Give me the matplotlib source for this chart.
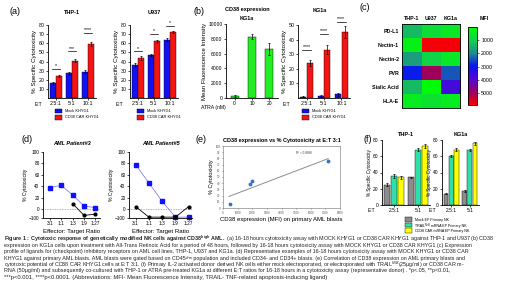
import matplotlib
matplotlib.use('Agg')
import matplotlib.pyplot as plt
import numpy as np
from matplotlib.colors import LinearSegmentedColormap
from matplotlib.patches import Rectangle

plt.rcParams['font.family'] = ['Liberation Sans', 'DejaVu Sans']
plt.rcParams['mathtext.fontset'] = 'custom'
plt.rcParams['mathtext.rm'] = 'Liberation Sans'
plt.rcParams['mathtext.bf'] = 'Liberation Sans:bold'
plt.rcParams['axes.linewidth'] = 0.6
plt.rcParams['xtick.major.width'] = 0.5
plt.rcParams['ytick.major.width'] = 0.5
plt.rcParams['xtick.major.size'] = 1.5
plt.rcParams['ytick.major.size'] = 1.5
plt.rcParams['xtick.major.pad'] = 1
plt.rcParams['ytick.major.pad'] = 1

# ---- data ----
ratios_a = ['2.5:1', '5:1', '10:1']
thp1_mock = [16, 27, 29]
thp1_mock_err = [1.5, 1.5, 2]
thp1_car = [24, 41, 59]
thp1_car_err = [1.5, 1.5, 2]
thp1_sig = ['*', '***', '****']

u937_mock = [36, 47, 64]
u937_mock_err = [2.5, 1.5, 2]
u937_car = [44, 62, 72]
u937_car_err = [2, 1.5, 1]
u937_sig = ['*', '*', '*']

kg1a_mock = [1, 1.5, 2.5]
kg1a_mock_err = [0.3, 0.5, 1]
kg1a_car = [24, 33, 45]
kg1a_car_err = [2, 3, 4]
kg1a_sig = ['****', '****', '****']

atra_doses = ['0', '10', '20']
atra_mfi = [300, 8300, 6600]
atra_mfi_err = [100, 300, 800]

ligands = ['PD-L1', 'Nectin-1', 'Nectin-2', 'PVR', 'Sialic Acid', 'HLA-E']
cell_lines = ['THP-1', 'U937', 'KG1a']
ligand_mfi = [[1300, 700, 500],
              [300, 5800, 5800],
              [1700, 900, 500],
              [2900, 5000, 2400],
              [1300, 100, 3700],
              [400, 600, 400]]

ratios_d = ['3:1', '1:1', '1:3', '1:9', '1:27']
p3_car = [38, 42, 25, 6, 3]
p3_mock = [np.nan, np.nan, 10, -70, -55]
p5_car = [78, 46, 14, -90, -90]
p5_mock = [5, -90, -90, -90, 5]

aml_mfi = [470, 1830, 1980, 7190]
aml_cyto = [6, 38, 43, 76]

ratios_f = ['2.5:1', '5:1']
f_thp1_mock = [25, 34]
f_thp1_trail = [36, 68]
f_thp1_car = [34, 73]
f_thp1_err = [[1.5, 1], [2.5, 2], [2, 2.5]]
f_kg1a_mock = [14, 17]
f_kg1a_trail = [60, 68]
f_kg1a_car = [68, 76]
f_kg1a_err = [[1, 1], [1, 1], [2, 2]]

BLUE = '#1212f0'
RED = '#f51414'
GREEN = '#22ee22'
GRAY = '#8c8c8c'
TEAL = '#30e0a8'
YELLOW = '#ffff00'

W, H = 520, 292
fig = plt.figure(figsize=(W / 100, H / 100), dpi=100)


def box(x0, y0, x1, y1):
    return fig.add_axes([x0 / W, 1 - y1 / H, (x1 - x0) / W, (y1 - y0) / H])


def ftext(x, y, s, **kw):
    return fig.text(x / W, 1 - y / H, s, **kw)


def clean(ax, ls=3.8):
    ax.spines['top'].set_visible(False)
    ax.spines['right'].set_visible(False)
    ax.tick_params(labelsize=ls)


def cyto_bars(ax, mock, mock_err, car, car_err, ymax, step, sig, sig_y):
    x = np.arange(len(mock))
    ek = dict(lw=0.5, capsize=1, capthick=0.5)
    ax.bar(x - 0.19, mock, 0.36, yerr=mock_err, color=BLUE, edgecolor='k', lw=0.3, error_kw=ek)
    ax.bar(x + 0.19, car, 0.36, yerr=car_err, color=RED, edgecolor='k', lw=0.3, error_kw=ek)
    ax.set_xlim(-0.5, len(mock) - 0.5)
    ax.set_ylim(0, ymax)
    ax.set_yticks(np.arange(step, ymax + 1, step))
    ax.set_xticks(x)
    ax.set_xticklabels(ratios_a)
    clean(ax)
    for xi, s, y in zip(x, sig, sig_y):
        ax.plot([xi - 0.25, xi + 0.25], [y, y], color='k', lw=0.5, clip_on=False)
        ax.text(xi, y + ymax * 0.01, s, ha='center', va='bottom', fontsize=3.8, clip_on=False)
    ax.set_ylabel('% Specific Cytotoxicity', fontsize=4.5, labelpad=1)


def bar_legend(x, y, labels, colors, fs=2.8, dy=6.5):
    for i, (lab, c) in enumerate(zip(labels, colors)):
        fig.patches.append(Rectangle((x / W, 1 - (y + i * dy + 2.3) / H), 7 / W, 4.6 / H,
                                     facecolor=c, edgecolor='k', lw=0.3, transform=fig.transFigure))
        ftext(x + 10, y + i * dy, lab, fontsize=fs, va='center')


# ---- (a) ----
ftext(9, 12, '(a)', fontsize=6.5, va='center')
ax = box(48, 25, 96, 98)
cyto_bars(ax, thp1_mock, thp1_mock_err, thp1_car, thp1_car_err, 80, 10, thp1_sig, [32, 51, 71])
ax.set_title('THP-1', fontsize=4, fontweight='bold', pad=8)
ftext(35, 104, 'E:T', fontsize=3.6, va='center')
bar_legend(55, 111, ['Mock KHYG1', 'CD38 CAR KHYG1'], [BLUE, RED])

ax = box(130, 25, 178, 98)
cyto_bars(ax, u937_mock, u937_mock_err, u937_car, u937_car_err, 80, 10, u937_sig, [51, 70, 79])
ax.set_title('U937', fontsize=4, fontweight='bold', pad=8)
ftext(116, 104, 'E:T', fontsize=3.6, va='center')
bar_legend(137, 111, ['Mock KHYG1', 'CD38 CAR KHYG1'], [BLUE, RED])

# ---- (b) ----
ftext(193, 12, '(b)', fontsize=6.5, va='center')
ftext(247, 10, 'CD38 expression', fontsize=4, fontweight='bold', ha='center', va='center')
ftext(247, 19, 'KG1a', fontsize=4, fontweight='bold', ha='center', va='center')
ax = box(226, 24, 278, 98)
xb = np.arange(3)
ax.bar(xb, atra_mfi, 0.45, yerr=atra_mfi_err, color=GREEN, edgecolor='k', lw=0.3,
       error_kw=dict(lw=0.5, capsize=1, capthick=0.5))
ax.set_xlim(-0.5, 2.5)
ax.set_ylim(0, 10000)
ax.set_yticks(np.arange(0, 10001, 2000))
ax.set_xticks(xb)
ax.set_xticklabels(atra_doses)
clean(ax, 3.6)
ax.set_ylabel('Mean Fluorescence Intensity', fontsize=4.3, labelpad=1)
ftext(201, 107, 'ATRA (nM)', fontsize=3.7, va='center')

ftext(320, 10, 'KG1a', fontsize=4, fontweight='bold', ha='center', va='center')
ax = box(298, 25, 350, 98)
cyto_bars(ax, kg1a_mock, kg1a_mock_err, kg1a_car, kg1a_car_err, 50, 10, kg1a_sig, [33, 44, 52])
ftext(283, 104, 'E:T', fontsize=3.6, va='center')
bar_legend(302, 111, ['Mock KHYG1', 'CD38 CAR KHYG1'], [BLUE, RED])

# ---- (c) heatmap ----
ftext(360, 8, '(c)', fontsize=6.5, va='center')
cmap = LinearSegmentedColormap.from_list('mfi', [(0, '#00ff00'), (0.17, '#12d050'), (0.34, '#1f8890'),
                                                 (0.5, '#0a14f0'), (0.68, '#5a08d0'), (0.85, '#a00058'),
                                                 (1, '#ff0000')])
ax = box(402, 24, 460, 108)
im = ax.imshow(np.array(ligand_mfi), cmap=cmap, vmin=0, vmax=5900, aspect='auto')
ax.set_xticks(range(3))
ax.set_xticklabels(cell_lines, fontsize=3.8, fontweight='bold')
ax.xaxis.tick_top()
ax.set_yticks(range(6))
ax.set_yticklabels(ligands, fontsize=3.8, fontweight='bold')
ax.tick_params(length=0, pad=2)
for s in ax.spines.values():
    s.set_linewidth(0.6)
cax = box(468, 27, 477, 105)
cb = fig.colorbar(im, cax=cax, ticks=[1000, 2000, 3000, 4000, 5000])
cax.invert_yaxis()
cax.tick_params(labelsize=3.8, length=1.5, width=0.4, pad=1.5)
cb.outline.set_linewidth(0.6)
ftext(484, 19, 'MFI', fontsize=3.8, fontweight='bold', ha='center', va='center')

# ---- (d) ----
ftext(22, 139, '(d)', fontsize=6.5, va='center')


def fwd(y):
    y = np.asarray(y, float)
    return np.where(y >= 0, y, y * 0.15)


def inv(y):
    y = np.asarray(y, float)
    return np.where(y >= 0, y, y / 0.15)


for (x0, x1, car, mock, title, xl) in [(43, 100, p3_car, p3_mock, 'AML Patient#3', (-0.6, 4.4)),
                                       (129, 192, p5_car, p5_mock, 'AML Patient#5', (-0.5, 4.25))]:
    ax = box(x0, 152, x1, 218)
    xd = np.arange(5)
    ax.axhline(0, color='#999999', lw=0.6, ls=(0, (1, 1)))
    ax.plot(xd, car, color='#8080ff', lw=0.6, marker='s', ms=2.6, mfc='#1010ff', mec='#1010ff', clip_on=False)
    ax.plot(xd, mock, color='k', lw=0.6, marker='o', ms=2, mfc='k', mec='k', clip_on=False)
    ax.set_yscale('function', functions=(fwd, inv))
    ax.set_ylim(-100, 100)
    ax.set_yticks([-100, 0, 20, 40, 60, 80, 100])
    ax.set_xlim(*xl)
    ax.set_xticks(xd)
    ax.set_xticklabels(ratios_d)
    ax.minorticks_off()
    clean(ax, 3.4)
    ax.set_ylabel('% Cytotoxicity', fontsize=3.7, labelpad=1)
    ax.set_title(title, fontsize=4, fontweight='bold', style='italic', pad=5)
    ax.set_xlabel('Effector: Target Ratio', fontsize=4.4, labelpad=1.5)

# ---- (e) ----
ftext(196, 139, '(e)', fontsize=6.5, va='center')
ax = box(223, 146, 340, 208)
ax.scatter(aml_mfi, aml_cyto, s=3, color='#2e75c6', zorder=3)
coef = np.polyfit(aml_mfi, aml_cyto, 1)
xs = np.array([min(aml_mfi) - 60, max(aml_mfi)])
ax.plot(xs, np.polyval(coef, xs), color='#8c8c8c', lw=0.7)
ax.set_xlim(0, 8000)
ax.set_ylim(0, 100)
ax.set_xticks(np.arange(0, 8001, 1000))
ax.set_yticks(np.arange(0, 101, 10))
ax.tick_params(labelsize=2.2, length=1, pad=0.8, colors='#595959')
for s in ax.spines.values():
    s.set_color('#8c8c8c')
    s.set_linewidth(0.5)
ax.text(0.62, 0.87, 'R² = 0.8688', transform=ax.transAxes, fontsize=2.2, color='#404040')
ax.set_ylabel('% Cytotoxicity', fontsize=4, labelpad=1.5)
ax.set_xlabel('CD38 expression (MFI) on primary AML blasts', fontsize=4.3, labelpad=1.5)
ax.set_title('CD38 expression vs % Cytotoxicity at E:T 3:1', fontsize=4, fontweight='bold', pad=3)

# ---- (f) ----
ftext(363, 139, '(f)', fontsize=6.5, va='center')


def f_bars(ax, mock, trail, car, err, title):
    x = np.arange(2)
    ek = dict(lw=0.5, capsize=1, capthick=0.5)
    for off, vals, c, e in zip([-0.28, 0, 0.28], [mock, trail, car], [GRAY, TEAL, YELLOW], err):
        ax.bar(x + off, vals, 0.25, yerr=e, color=c, edgecolor='k', lw=0.3, error_kw=ek)
    ax.set_xlim(-0.5, 1.5)
    ax.set_ylim(0, 80)
    ax.set_yticks(np.arange(0, 81, 20))
    ax.set_xticks(x)
    ax.set_xticklabels(ratios_f)
    clean(ax, 3.5)
    ax.set_ylabel('% Specific Cytotoxicity', fontsize=3.3, labelpad=1)
    ax.set_title(title, fontsize=4, fontweight='bold', pad=3)


ax = box(382, 140, 430, 205)
f_bars(ax, f_thp1_mock, f_thp1_trail, f_thp1_car, f_thp1_err, 'THP-1')
ftext(368, 211, 'E:T', fontsize=3.5, va='center')
ax = box(442, 140, 479, 205)
f_bars(ax, f_kg1a_mock, f_kg1a_trail, f_kg1a_car, f_kg1a_err, 'KG1a')
ftext(429, 211, 'E:T', fontsize=3.5, va='center')
bar_legend(405, 219.5, ['Mock EP Primary NK', 'TRAILᴺᐟᴮ mRNA EP Primary NK', 'CD38 CAR mRNA EP Primary NK'],
           [GRAY, TEAL, YELLOW], fs=2.6, dy=5.6)

# ---- caption ----
caption = [
    r'$\mathbf{Figure\ 1{:}\ Cytotoxic\ response\ of\ genetically\ modified\ NK\ cells\ against\ CD38^{high}\ AML.}$'
    ' (a) 16-18 hours cytotoxicity assay with MOCK KHYG1 or CD38 CAR KHYG1 against THP-1 and U937 (b) CD38',
    'expression on KG1a cells upon treatment with All-Trans Retinoic Acid for a period of 48 hours, followed by 16-18 hours cytotoxicity assay with MOCK KHYG1 or CD38 CAR KHYG1 (c) Expression',
    'profile of ligands for (checkpoint) inhibitory receptors on AML cell lines, THP-1, U937 and KG1a. (d) Representative examples of 16-18 hours cytotoxicity assay with MOCK KHYG1 or CD38 CAR',
    'KHYG1 against primary AML blasts. AML blasts were gated based on CD45ᵈⁱᵐ population and included CD34- and CD34+ blasts. (e) Correlation of CD38 expression on AML primary blasts and',
    r'cytotoxic potential of CD38 CAR KHYG1 cells at E:T 3:1. (f) Primary IL-2 activated donor derived NK cells either mock electroporated, or electroporated with TRAIL$^{N/B}$(25μg/ml) or CD38 CAR m-',
    'RNA (50μg/ml) and subsequently co-cultured with THP-1 or ATRA pre-treated KG1a at different E:T ratios for 16-18 hours in a cytotoxicity assay (representative donor) . *p<.05, **p<0.01,',
    '***p<0.001, ****p<0.0001. (Abbreviations: MFI- Mean Fluorescence Intensity, TRAIL- TNF-related apoptosis-inducing ligand)',
]
renderer = fig.canvas.get_renderer()
sizes = []
texts = []
for i, line in enumerate(caption):
    t = ftext(4, 239 + i * 6.35, line, fontsize=3.5, va='center', color='#222222')
    texts.append(t)
    if i < 6:
        w = t.get_window_extent(renderer).width
        sizes.append(3.5 * 512 / w)
for i, t in enumerate(texts):
    t.set_fontsize(min(sizes[i], 3.9) if i < 6 else np.mean(sizes))

fig.savefig('out.png', dpi=100)
